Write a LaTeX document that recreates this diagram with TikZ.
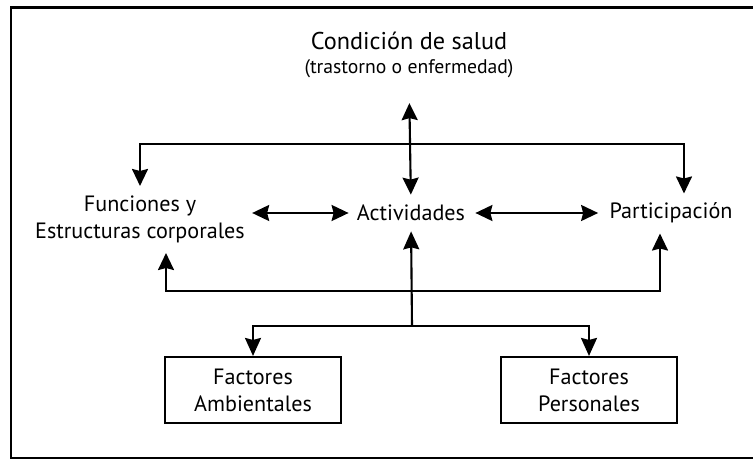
\documentclass[tikz,border=0pt]{standalone}
\usepackage{fontspec}
\setmainfont{PT Sans}
\usetikzlibrary{arrows.meta}

\tikzset{
	arr/.style={black, line width=1.2pt, -{Stealth[length=0.36cm,width=0.32cm,inset=0.04cm]}},
	dblarr/.style={black, line width=1.2pt, {Stealth[length=0.34cm,width=0.32cm,inset=0.04cm]}-{Stealth[length=0.34cm,width=0.32cm,inset=0.04cm]}},
	txt/.style={inner sep=0pt, align=center, font=\fontsize{12.6pt}{15.5pt}\selectfont},
	factorbox/.style={draw, line width=1.2pt, minimum width=3.52cm, minimum height=1.32cm, align=center, font=\fontsize{12.6pt}{15.5pt}\selectfont}
}

\begin{document}
\begin{tikzpicture}
				\useasboundingbox (0,0) rectangle (15.06,9.2);
		%		\draw[lightgray] (0,0) grid (15,9);
				\draw[line width=1.2pt] (0.22,0.04) rectangle (15.2,9.05); % marco
				
				\node[txt] (salud) at (8.18,8.1) {{\fontsize{13.8pt}{15pt}\selectfont Condición de salud}\\[-2pt]{\fontsize{11.2pt}{12pt}\selectfont (trastorno o enfermedad)}};
				\node[txt] (funciones) at (2.8,4.82) {Funciones y\\Estructuras corporales};
				\node[txt] (actividades) at (8.22,4.94) {Actividades};
				\node[txt] (participacion) at (13.42,4.94) {Participación};
				\node[factorbox] (ambientales) at (5.06,1.4) {Factores\\Ambientales};
				\node[factorbox] (personales) at (11.78,1.4) {Factores\\Personales};
				
				\coordinate (bartop) at (8.24,6.32);
				\coordinate (barbot) at (8.24,3.38);
				\coordinate (split) at (8.24,2.68);
				
				\draw[dblarr, shorten <=0.2cm, shorten >=0.5cm] (actividades.north) -- (salud.south); % salud
				\draw[dblarr, shorten <=0.18cm, shorten >=0.18cm] (funciones.north) |- (bartop) -| ([xshift=0.26cm]participacion.north);
				\draw[dblarr, shorten <=0.14cm, shorten >=0.16cm] (funciones.east |- actividades.west) -- (actividades.west);
				\draw[dblarr, shorten <=0.2cm, shorten >=0.22cm] (actividades.east) -- (participacion.west);
				\draw[dblarr, shorten <=0.2cm, shorten >=0.2cm] ([xshift=0.52cm]funciones.south) |- (barbot) -| ([xshift=-0.22cm]participacion.south);
				\draw[arr, shorten >=0.2cm] (split) -- (actividades.south);
				\draw[arr] (split) -| (ambientales.north); % ambientales
				\draw[arr] (split) -| (personales.north); % personales
				
			\end{tikzpicture}
\end{document}
